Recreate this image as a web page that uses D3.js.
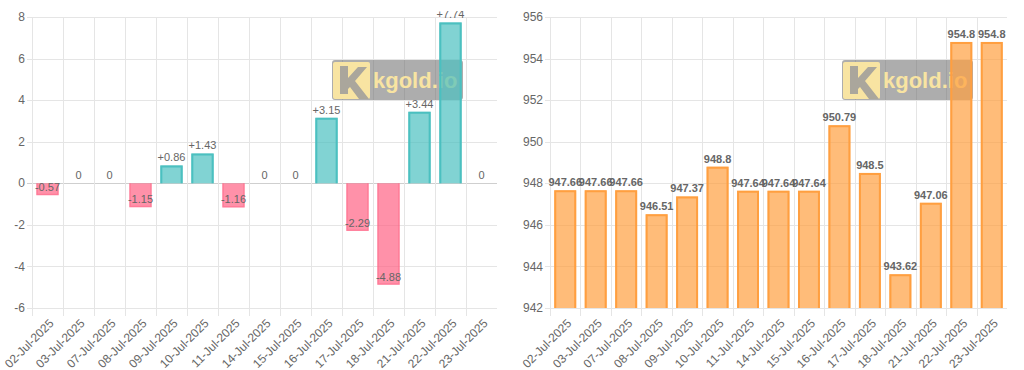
<!DOCTYPE html>
<html lang="en">
<head>
    <meta charset="UTF-8">
    <title>kgold.io - daily price change</title>
    <script src="https://cdnjs.cloudflare.com/ajax/libs/d3/7.8.5/d3.min.js"></script>
    <style>
        body {
            margin: 0;
            background: #fff;
            font-family: 'Liberation Sans', Arial, sans-serif;
        }
        svg { display: block; }
        .tick-label { fill: #666; font-size: 12px; }
        .grid line { stroke: #e5e5e5; stroke-width: 1; }
    </style>
</head>
<body>
    <svg id="chart" width="1024" height="370"></svg>

    <script>
        // datos
        const dates = ["02-Jul-2025", "03-Jul-2025", "07-Jul-2025", "08-Jul-2025", "09-Jul-2025",
            "10-Jul-2025", "11-Jul-2025", "14-Jul-2025", "15-Jul-2025", "16-Jul-2025",
            "17-Jul-2025", "18-Jul-2025", "21-Jul-2025", "22-Jul-2025", "23-Jul-2025"];
        const changes = [-0.57, 0, 0, -1.15, 0.86, 1.43, -1.16, 0, 0, 3.15, -2.29, -4.88, 3.44, 7.74, 0];
        const prices = [947.66, 947.66, 947.66, 946.51, 947.37, 948.8, 947.64, 947.64, 947.64,
            950.79, 948.5, 943.62, 947.06, 954.8, 954.8];
        const changeTicks = [-6, -4, -2, 0, 2, 4, 6, 8];
        const priceTicks = [942, 944, 946, 948, 950, 952, 954, 956];

        const svg = d3.select("#chart");

        // clip so the topmost label gets cut like in the original canvas
        svg.append("defs").append("clipPath").attr("id", "top-clip")
            .append("rect").attr("x", 0).attr("y", 11).attr("width", 1024).attr("height", 359);

        function drawPanel(opts) {
            const x = d3.scaleBand().domain(dates).range([opts.left, opts.right]);
            const y = d3.scaleLinear().domain(opts.domain).range([308, 17]);
            const g = svg.append("g");

            // horizontal grid + tick marks
            const grid = g.append("g").attr("class", "grid");
            grid.selectAll("line.h")
                .data(opts.ticks)
                .enter().append("line")
                .attr("x1", opts.left - 5)
                .attr("x2", opts.right)
                .attr("y1", d => Math.round(y(d)) + 0.5)
                .attr("y2", d => Math.round(y(d)) + 0.5)
                .style("stroke", d => (opts.zero !== undefined && d === opts.zero) ? "#cfcfcf" : null);

            // vertical grid between categories
            grid.selectAll("line.v")
                .data(dates)
                .enter().append("line")
                .attr("x1", d => Math.round(x(d)) + 0.5)
                .attr("x2", d => Math.round(x(d)) + 0.5)
                .attr("y1", 17)
                .attr("y2", 316);

            g.selectAll("text.ytick")
                .data(opts.ticks)
                .enter().append("text")
                .attr("class", "tick-label")
                .attr("x", opts.left - 7)
                .attr("y", d => y(d))
                .attr("dy", "0.35em")
                .attr("text-anchor", "end")
                .text(d => d);

            g.selectAll("text.xtick")
                .data(dates)
                .enter().append("text")
                .attr("class", "tick-label")
                .attr("transform", d => `translate(${x(d) + x.bandwidth() / 2 + 4},${321}) rotate(-45)`)
                .attr("dy", "0.35em")
                .attr("text-anchor", "end")
                .text(d => d);

            drawWatermark(g, opts.wmX, 60);

            // barras
            const bw = x.bandwidth() * 0.72;
            const base = y(opts.base);
            const bars = g.append("g");
            opts.values.forEach((v, i) => {
                if (v === opts.base) return;
                const cx = x(dates[i]) + x.bandwidth() / 2;
                const yv = y(v);
                const top = Math.min(yv, base), h = Math.abs(yv - base);
                const up = v > opts.base;
                const fill = opts.color(v), stroke = opts.stroke(v);
                bars.append("rect")
                    .attr("x", cx - bw / 2).attr("y", top)
                    .attr("width", bw).attr("height", h)
                    .attr("fill", fill);
                const sw = up ? 2 : 1.5;
                const x0 = cx - bw / 2 + sw / 2, x1 = cx + bw / 2 - sw / 2;
                const yEnd = up ? yv + sw / 2 : yv - sw / 2;
                bars.append("path")
                    .attr("d", `M${x0},${base} L${x0},${yEnd} L${x1},${yEnd} L${x1},${base}`)
                    .attr("fill", "none")
                    .attr("stroke", stroke)
                    .attr("stroke-width", sw);
            });

            // etiquetas de valor
            g.append("g").attr("clip-path", "url(#top-clip)")
                .selectAll("text")
                .data(opts.values)
                .enter().append("text")
                .attr("x", (d, i) => x(dates[i]) + x.bandwidth() / 2)
                .attr("y", d => y(d) - 8)
                .attr("dy", "0.35em")
                .attr("text-anchor", "middle")
                .attr("fill", "#666")
                .attr("font-size", "11px")
                .attr("font-weight", opts.bold ? "bold" : "normal")
                .text(opts.format);
        }

        function drawWatermark(g, x0, y0) {
            const wm = g.append("g").attr("transform", `translate(${x0},${y0})`);
            wm.append("rect")
                .attr("width", 131).attr("height", 40)
                .attr("rx", 3)
                .attr("fill", "rgba(105,105,105,0.55)");
            wm.append("rect")
                .attr("x", 1).attr("y", 2)
                .attr("width", 37).attr("height", 37)
                .attr("rx", 2)
                .attr("fill", "#f8e4a2");
            // logo K
            wm.append("path")
                .attr("d", "M8,6 L16,6 L16,18 L26,7 L35,7 L23,21 L37,39 L27,39 L18,27 L16,29 L16,34 L8,34 Z")
                .attr("fill", "#aaa69c");
            wm.append("text")
                .attr("x", 41).attr("y", 28)
                .attr("font-size", "22px")
                .attr("font-weight", "bold")
                .attr("font-family", "'Liberation Sans', Arial, sans-serif")
                .attr("fill", "#f8e4a2")
                .text("kgold.io");
        }

        drawPanel({
            left: 32, right: 497,
            domain: [-6, 8], ticks: changeTicks, zero: 0, base: 0,
            values: changes, wmX: 332, bold: false,
            color: v => v > 0 ? "rgba(75,192,192,0.7)" : "rgba(255,99,132,0.7)",
            stroke: v => v > 0 ? "rgb(75,192,192)" : "rgba(255,99,132,0.45)",
            format: d => d > 0 ? "+" + d : String(d)
        });

        drawPanel({
            left: 550, right: 1007,
            domain: [942, 956], ticks: priceTicks, base: 942,
            values: prices, wmX: 842, bold: true,
            color: () => "rgba(255,159,64,0.7)",
            stroke: () => "rgb(255,159,64)",
            format: d => String(d)
        });
    </script>
</body>
</html>
